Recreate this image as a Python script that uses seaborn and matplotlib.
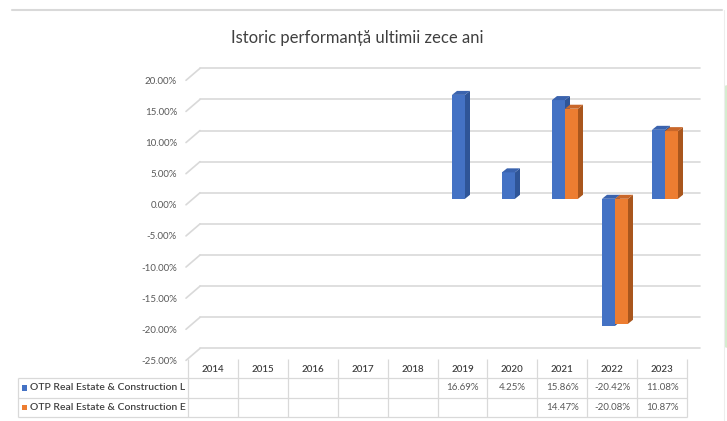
import numpy as np
import pandas as pd
import matplotlib
matplotlib.use("Agg")
import matplotlib.pyplot as plt
from matplotlib.patches import Polygon, FancyBboxPatch
from matplotlib.lines import Line2D
import seaborn as sns

# ---------------- data ----------------
years = ["2014", "2015", "2016", "2017", "2018", "2019", "2020", "2021", "2022", "2023"]
series_names = ["OTP Real Estate & Construction L", "OTP Real Estate & Construction E"]
series_L = [np.nan, np.nan, np.nan, np.nan, np.nan, 16.69, 4.25, 15.86, -20.42, 11.08]
series_E = [np.nan, np.nan, np.nan, np.nan, np.nan, np.nan, np.nan, 14.47, -20.08, 10.87]
y_ticks = [20, 15, 10, 5, 0, -5, -10, -15, -20, -25]
title = "Istoric performanță ultimii zece ani"

BLUE, ORANGE = "#4472C4", "#ED7D31"
BLUE_SIDE, ORANGE_SIDE = "#2F5597", "#A9561D"
BLUE_TOP, ORANGE_TOP = "#3A63AE", "#C9672A"
GRID = "#D9D9D9"
TXT = "#595959"
DARK = "#404040"

df = pd.DataFrame({
    "year": years * 2,
    "value": series_L + series_E,
    "series": [series_names[0]] * len(years) + [series_names[1]] * len(years),
})

sns.set_theme(style="white")
plt.rcParams["font.family"] = ["Lato", "DejaVu Sans"]

W, H = 727, 421
fig = plt.figure(figsize=(W / 100, H / 100), dpi=100)
fig.patch.set_facecolor("white")

def fr(x0, y_top, w, h):
    return [x0 / W, (H - y_top - h) / H, w / W, h / H]

YMIN, YMAX = -25, 20
PLANE_X, PLANE_TOP, PLANE_W, PLANE_H = 193, 74.3, 500, 280.1

# back wall gridlines
axg = fig.add_axes(fr(PLANE_X + 7, PLANE_TOP - 6, PLANE_W, PLANE_H))
axg.set_xlim(0, 1); axg.set_ylim(YMIN, YMAX)
axg.axis("off")
ppu = PLANE_H / (YMAX - YMIN)
for v in y_ticks:
    axg.axhline(v, color=GRID, lw=1.2, clip_on=False, zorder=0)
    axg.plot([0, -14 / PLANE_W], [v, v - 12 / ppu], color=GRID, lw=1.2,
             clip_on=False, transform=axg.get_yaxis_transform(), zorder=0)

# front tick labels
axf = fig.add_axes(fr(PLANE_X - 7, PLANE_TOP + 6, PLANE_W, PLANE_H))
axf.set_ylim(YMIN, YMAX)
axf.set_yticks(y_ticks)
axf.set_yticklabels([f"{v:.2f}%" for v in y_ticks])
axf.tick_params(axis="y", length=0, pad=6.5, labelsize=7, labelcolor=TXT)
axf.set_xticks([])
for s in axf.spines.values():
    s.set_visible(False)
axf.patch.set_alpha(0)

# bars
ax = fig.add_axes(fr(PLANE_X, PLANE_TOP, PLANE_W, PLANE_H))
sns.barplot(data=df, x="year", y="value", hue="series", order=years,
            hue_order=series_names, palette=[BLUE, ORANGE], saturation=1,
            width=0.52, dodge=True, errorbar=None, linewidth=0, legend=False, ax=ax)
ax.set_xlim(-0.44, 9.56)
ax.set_ylim(YMIN, YMAX)
ax.axis("off")
ax.patch.set_alpha(0)

dx = 5 / (PLANE_W / 10.0)
dy = 4 / ppu
side_cols = [(BLUE_SIDE, BLUE_TOP), (ORANGE_SIDE, ORANGE_TOP)]
for k, cont in enumerate(ax.containers):
    sc, tc = side_cols[k]
    for r in cont:
        h = r.get_height()
        if not np.isfinite(h) or h == 0:
            r.set_visible(False)
            continue
        x0, x1 = r.get_x(), r.get_x() + r.get_width()
        yb, yt = min(0, h), max(0, h)
        r.set_zorder(3 + 2 * k)
        side = Polygon([(x1, yb), (x1 + dx, yb + dy), (x1 + dx, yt + dy), (x1, yt)],
                       closed=True, facecolor=sc, edgecolor="none", zorder=3.5 + 2 * k)
        top = Polygon([(x0, yt), (x0 + dx, yt + dy), (x1 + dx, yt + dy), (x1, yt)],
                      closed=True, facecolor=tc, edgecolor="none", zorder=3.5 + 2 * k)
        ax.add_patch(side)
        ax.add_patch(top)

# data table (drawn in pixel-like coordinates of its own axes)
T_LEFT, T_COL0, T_RIGHT = 18, 188, 687
T_TOP, T_ROW1, T_ROW2, T_BOT = 359, 378, 398, 417
axT = fig.add_axes(fr(T_LEFT, T_TOP, T_RIGHT - T_LEFT, T_BOT - T_TOP))
axT.set_xlim(T_LEFT, T_RIGHT)
axT.set_ylim(T_BOT, T_TOP)
axT.axis("off")
colw = (T_RIGHT - T_COL0) / len(years)
lkw = dict(color=GRID, lw=0.9, clip_on=False, solid_capstyle="butt")
for j in range(len(years) + 1):
    xb = T_COL0 + j * colw
    axT.plot([xb, xb], [T_TOP, T_BOT], **lkw)
for yy in (T_ROW1, T_ROW2, T_BOT):
    axT.plot([T_LEFT, T_RIGHT], [yy, yy], **lkw)
axT.plot([T_LEFT, T_LEFT], [T_ROW1, T_BOT], **lkw)

for j, yr in enumerate(years):
    axT.text(T_COL0 + (j + 0.5) * colw, (T_TOP + T_ROW1) / 2 + 1, yr,
             ha="center", va="center", fontsize=7, color=DARK, fontweight="semibold")
row_mid = [(T_ROW1 + T_ROW2) / 2, (T_ROW2 + T_BOT) / 2]
for k, (name, vals, c) in enumerate(zip(series_names, [series_L, series_E], [BLUE, ORANGE])):
    axT.add_patch(plt.Rectangle((21.5, row_mid[k] - 2.6), 5, 5.2, facecolor=c,
                                edgecolor="none", clip_on=False))
    axT.text(30.5, row_mid[k], name, ha="left", va="center", fontsize=7.5,
             color=DARK, fontweight="semibold")
    for j, v in enumerate(vals):
        if np.isfinite(v):
            axT.text(T_COL0 + (j + 0.5) * colw, row_mid[k], f"{v:.2f}%",
                     ha="center", va="center", fontsize=7, color=TXT)

# title
fig.text(357 / W, 1 - 38 / H, title, ha="center", va="center",
         fontsize=12, color=DARK)

# frame decorations
fig.add_artist(Line2D([12 / W, 722 / W], [1 - 10 / H, 1 - 10 / H],
                      color=GRID, lw=1.5))
fig.add_artist(Line2D([723.5 / W, 723.5 / W], [1 - 10 / H, 0],
                      color="#EDEDED", lw=0.8))
fig.add_artist(FancyBboxPatch((724 / W, 1 - 348 / H), 6 / W, 263 / H,
                              boxstyle="round,pad=0,rounding_size=0.006",
                              facecolor="#D5EDD0", edgecolor="none",
                              transform=fig.transFigure))

fig.savefig("out.png", dpi=100, facecolor="white")
